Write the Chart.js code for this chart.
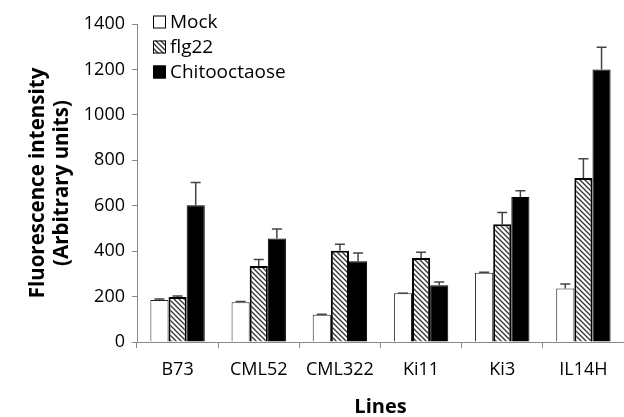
<!DOCTYPE html>
<html>
<head>
<meta charset="utf-8">
<script src="https://cdn.jsdelivr.net/npm/chart.js@4/dist/chart.umd.min.js"></script>
<style>
  html, body { margin: 0; padding: 0; background: #fff; }
  #wrap { width: 624px; height: 417px; position: relative; }
</style>
</head>
<body>
<div id="wrap"><canvas id="chart"></canvas></div>
<script>
const categories = ['B73', 'CML52', 'CML322', 'Ki11', 'Ki3', 'IL14H'];
const seriesNames = ['Mock', 'flg22', 'Chitooctaose'];
const mockValues = [185, 175, 120, 215, 305, 235];
const mockErrors = [4, 3, 2, 0, 2, 20];
const flg22Values = [198, 335, 402, 370, 518, 722];
const flg22Errors = [5, 28, 28, 25, 52, 85];
const chitoValues = [602, 456, 355, 250, 638, 1200];
const chitoErrors = [100, 42, 37, 14, 28, 98];
const yMin = 0, yMax = 1400, yStep = 200;
const xTitle = 'Lines';
const yTitle = ['Fluorescence intensity', '(Arbitrary units)'];

Chart.defaults.font.family = '"Open Sans", "Liberation Sans", sans-serif';
Chart.defaults.color = '#000';

function hatch() {
  const c = document.createElement('canvas');
  c.width = 5; c.height = 5;
  const g = c.getContext('2d');
  g.fillStyle = '#fff';
  g.fillRect(0, 0, 5, 5);
  g.strokeStyle = '#333';
  g.lineWidth = 1.3;
  g.beginPath();
  g.moveTo(-1, -1); g.lineTo(6, 6);
  g.moveTo(-1, 4); g.lineTo(1, 6);
  g.moveTo(4, -1); g.lineTo(6, 1);
  g.stroke();
  return g.createPattern(c, 'repeat');
}

// error bars, upper half only
const errorBars = {
  id: 'errorBars',
  afterDatasetsDraw(chart) {
    const ctx = chart.ctx;
    const y = chart.scales.y;
    ctx.save();
    ctx.strokeStyle = '#444';
    ctx.lineWidth = 1.5;
    chart.data.datasets.forEach((ds, i) => {
      const meta = chart.getDatasetMeta(i);
      meta.data.forEach((bar, j) => {
        const top = y.getPixelForValue(ds.data[j] + ds.errors[j]);
        const base = y.getPixelForValue(ds.data[j]);
        ctx.beginPath();
        ctx.moveTo(bar.x, base);
        ctx.lineTo(bar.x, top);
        ctx.moveTo(bar.x - 5, top);
        ctx.lineTo(bar.x + 5, top);
        ctx.stroke();
      });
    });
    ctx.restore();
  }
};

const boxLegend = {
  id: 'boxLegend',
  afterDraw(chart) {
    const ctx = chart.ctx;
    ctx.save();
    ctx.font = '19px "Open Sans", sans-serif';
    ctx.textBaseline = 'middle';
    chart.data.datasets.forEach((ds, i) => {
      const cy = 22 + i * 25;
      ctx.fillStyle = ds.backgroundColor;
      ctx.fillRect(153, cy - 6.5, 13, 13);
      ctx.strokeStyle = '#000';
      ctx.lineWidth = 1;
      ctx.strokeRect(153.5, cy - 6, 12, 12);
      ctx.fillStyle = '#000';
      ctx.fillText(ds.label, 170, cy + 1);
    });
    ctx.restore();
  }
};

new Chart(document.getElementById('chart'), {
  type: 'bar',
  data: {
    labels: categories,
    datasets: [
      { label: seriesNames[0], data: mockValues, errors: mockErrors,
        backgroundColor: '#fff', borderColor: '#222', borderWidth: 1 },
      { label: seriesNames[1], data: flg22Values, errors: flg22Errors,
        backgroundColor: hatch(), borderColor: '#000', borderWidth: 2 },
      { label: seriesNames[2], data: chitoValues, errors: chitoErrors,
        backgroundColor: '#000', borderColor: '#000', borderWidth: 1 }
    ]
  },
  options: {
    responsive: true,
    maintainAspectRatio: false,
    animation: false,
    layout: { padding: { top: 24, right: 0, left: 0, bottom: 0 } },
    datasets: { bar: { categoryPercentage: 0.67, barPercentage: 1.0 } },
    plugins: { legend: { display: false }, tooltip: { enabled: false } },
    scales: {
      x: {
        grid: { drawOnChartArea: false, drawTicks: true, tickLength: 6, color: '#888', offset: true },
        border: { display: true, color: '#888' },
        ticks: { font: { size: 18 }, padding: 11, maxRotation: 0 },
        title: { display: true, text: xTitle, font: { size: 20, weight: 'bold' }, padding: { top: 0, bottom: -2 } },
        afterFit(s) { s.height = 75; }
      },
      y: {
        min: yMin, max: yMax,
        grid: { drawOnChartArea: false, drawTicks: true, tickLength: 5, color: '#888' },
        border: { display: true, color: '#888' },
        ticks: { stepSize: yStep, font: { size: 18 }, padding: 7, callback: v => String(v) },
        title: { display: true, text: yTitle, font: { size: 20.5, weight: 'bold', lineHeight: 1.17 }, padding: { top: 26, bottom: 0 } },
        afterFit(s) { s.width = 137; }
      }
    }
  },
  plugins: [errorBars, boxLegend]
});
</script>
</body>
</html>
